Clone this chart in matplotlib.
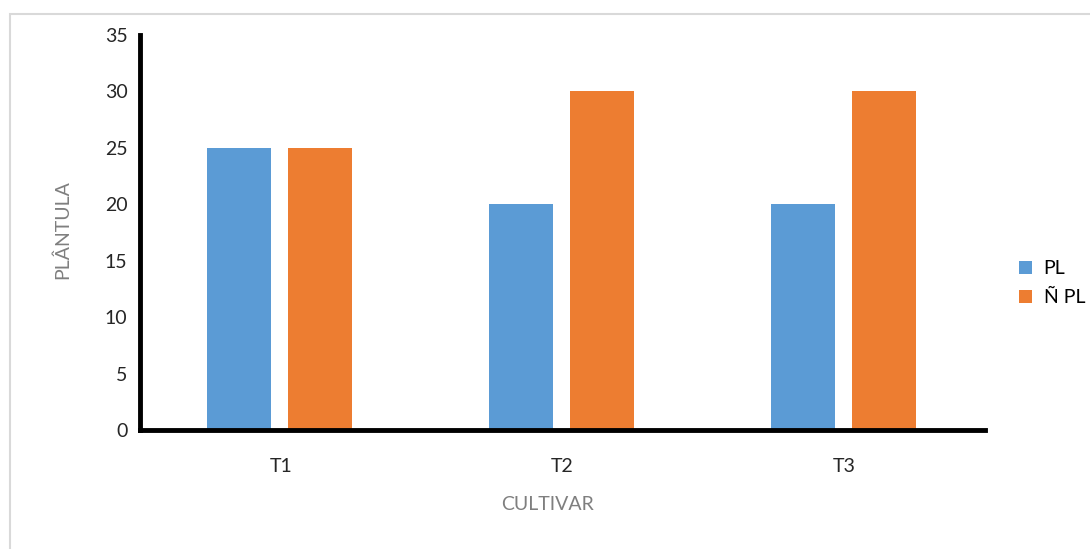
import matplotlib
matplotlib.use("Agg")
import matplotlib.pyplot as plt
import numpy as np
from matplotlib.patches import Rectangle

categories = ["T1", "T2", "T3"]
series_names = ["PL", "Ñ PL"]
pl_values = [25, 20, 20]
npl_values = [25, 30, 30]
yticks = [0, 5, 10, 15, 20, 25, 30, 35]

plt.rcParams['font.family'] = ['Lato', 'DejaVu Sans']

fig = plt.figure(figsize=(10.9, 5.49), dpi=100)
# outer chart border (only top/left visible)
fig.patches.append(Rectangle((10/1090, -0.1), 1.2, 1 - 14/549 + 0.1, transform=fig.transFigure,
                             fill=False, edgecolor='#d9d9d9', linewidth=1.5))

ax = fig.add_axes([140/1090, 1 - 430/549, (985 - 140)/1090, (430 - 35)/549])
x = np.arange(len(categories))
w = 0.227
ax.bar(x - 0.147, pl_values, width=w, color='#5B9BD5', label=series_names[0])
ax.bar(x + 0.140, npl_values, width=w, color='#ED7D31', label=series_names[1])

ax.set_xlim(-0.5, 2.5)
ax.set_ylim(0, 35)
ax.set_yticks(yticks)
ax.set_xticks(x)
ax.set_xticklabels(categories)
for s in ['top', 'right']:
    ax.spines[s].set_visible(False)
for s in ['left', 'bottom']:
    ax.spines[s].set_linewidth(3.5)
    ax.spines[s].set_color('black')
ax.tick_params(axis='both', length=0, labelsize=14, colors='#000000')
ax.tick_params(axis='y', pad=9)
ax.tick_params(axis='x', pad=20)
for lab in ax.get_yticklabels() + ax.get_xticklabels():
    lab.set_color('#262626')

ax.set_ylabel("PLÂNTULA", color='#7f7f7f', fontsize=14)
ax.yaxis.set_label_coords(-(140 - 62) / 845, (430 - 230) / 395)
ax.set_xlabel("CULTIVAR", color='#7f7f7f', fontsize=14)
ax.xaxis.set_label_coords((548 - 140) / 845, -(505 - 430) / 395)
ax.xaxis.label.set_va('center')
ax.yaxis.label.set_va('center')

ax.legend(loc='center left', bbox_to_anchor=(1.02, (430 - 283) / 395), frameon=False, fontsize=14,
          handlelength=0.65, handleheight=0.65, handletextpad=0.6, labelspacing=0.6)

fig.savefig("out.png", dpi=100)
